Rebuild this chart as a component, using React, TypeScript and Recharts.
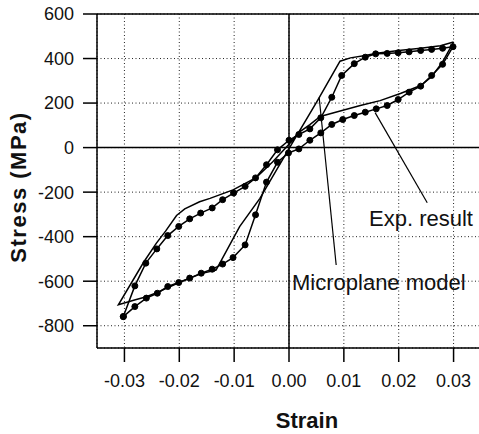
import React from 'react';
import { LineChart, Line, XAxis, YAxis, CartesianGrid, ReferenceLine } from 'recharts';

const expStrain = [
  -0.0302, -0.0281, -0.0261, -0.0241, -0.0221, -0.0201, -0.0181, -0.0161, -0.014, -0.0121,
  -0.0101, -0.008, -0.0061, -0.0041, -0.0021, 0, 0.0018, 0.0038, 0.0058, 0.0078,
  0.0096, 0.0119, 0.0139, 0.0158, 0.0179, 0.0199, 0.0219, 0.024, 0.026, 0.028,
  0.0299, 0.028, 0.026, 0.024, 0.0219, 0.0199, 0.0179, 0.0159, 0.0139, 0.0119,
  0.0098, 0.0078, 0.0058, 0.0038, 0.0018, -0.0001, -0.0021, -0.0041, -0.0061, -0.008,
  -0.0102, -0.0121, -0.014, -0.016, -0.0181, -0.0201, -0.0221, -0.024, -0.026, -0.0281,
  -0.0302,
];
const expStress = [
  -759, -621, -519, -455, -395, -354, -320, -294, -271, -234,
  -204, -174, -136, -77, -10, 33, 59, 84, 134, 226,
  324, 377, 406, 421, 423, 426, 430, 436, 441, 446,
  453, 374, 324, 276, 249, 216, 189, 174, 159, 144,
  126, 104, 66, 33, -6, -24, -66, -155, -302, -437,
  -494, -523, -546, -564, -586, -606, -624, -654, -676, -714,
  -759,
];

// Microplane model loop (plain line)
const modelStrain = [
  0.03, 0.0276, 0.024, 0.02, 0.016, 0.0139, 0.0112, 0.0093, 0.0053, 0,
  -0.0053, -0.009, -0.0133, -0.016, -0.02, -0.024, -0.026, -0.028, -0.0311, -0.0265,
  -0.0242, -0.0225, -0.0205, -0.019, -0.0163, -0.0144, -0.0102, -0.006, -0.003, 0,
  0.0017, 0.0038, 0.0057, 0.008, 0.013, 0.0166, 0.0203, 0.024, 0.026, 0.028,
  0.03,
];
const modelStress = [
  474, 457, 446, 436, 424, 414, 403, 388, 216, -5,
  -228, -355, -550, -566, -606, -650, -670, -683, -706, -515,
  -430, -375, -305, -275, -243, -228, -190, -135, -65, 15,
  66, 103, 140, 155, 189, 211, 243, 279, 318, 385,
  474,
];

const xTicks = [-0.03, -0.02, -0.01, 0, 0.01, 0.02, 0.03];
const yTicks = [-800, -600, -400, -200, 0, 200, 400, 600];

const expData = expStrain.map((x, i) => ({ x, y: expStress[i] }));
const modelData = modelStrain.map((x, i) => ({ x, y: modelStress[i] }));

const font = '"Liberation Sans", Arial, Helvetica, sans-serif';
const tickStyle = { fill: '#111', fontSize: 18, fontFamily: font };

export default function App() {
  return (
    <div style={{ position: 'absolute', left: 0, top: 0, width: 479, height: 434, overflow: 'hidden', background: '#fff' }}>
      <LineChart width={481} height={434} margin={{ top: 14, right: 0, left: 0, bottom: 0 }}>
        <CartesianGrid stroke="#222" strokeDasharray="1 2.5" />
        <XAxis
          dataKey="x"
          type="number"
          domain={[-0.035, 0.035]}
          ticks={xTicks}
          interval={0}
          tickFormatter={(v: number) => v.toFixed(2)}
          height={86}
          tickSize={14}
          tickMargin={12}
          tick={tickStyle}
          axisLine={{ stroke: '#000', strokeWidth: 1.5 }}
          tickLine={{ stroke: '#000', strokeWidth: 1.5 }}
        />
        <YAxis
          type="number"
          domain={[-900, 600]}
          ticks={yTicks}
          interval={0}
          width={97}
          tickSize={14}
          tickMargin={9}
          tick={tickStyle}
          axisLine={{ stroke: '#000', strokeWidth: 1.5 }}
          tickLine={{ stroke: '#000', strokeWidth: 1.5 }}
        />
        <ReferenceLine y={0} stroke="#000" strokeWidth={1.5} />
        <ReferenceLine x={0} stroke="#000" strokeWidth={1.5} />
        <ReferenceLine y={600} stroke="#000" strokeWidth={1.5} />
        <ReferenceLine x={0.035} stroke="#000" strokeWidth={1.5} />
        <ReferenceLine segment={[{ x: 0.0157, y: 157 }, { x: 0.0252, y: -248 }]} stroke="#000" strokeWidth={1.2} />
        <ReferenceLine segment={[{ x: 0.0055, y: 225 }, { x: 0.0086, y: -527 }]} stroke="#000" strokeWidth={1.2} />
        <Line
          data={modelData}
          dataKey="y"
          type="linear"
          stroke="#000"
          strokeWidth={1.5}
          dot={false}
          isAnimationActive={false}
        />
        <Line
          data={expData}
          dataKey="y"
          type="linear"
          stroke="#000"
          strokeWidth={1.5}
          dot={{ r: 3, fill: '#000', stroke: '#000', strokeWidth: 1 }}
          isAnimationActive={false}
        />
      </LineChart>
      <svg width={479} height={434} style={{ position: 'absolute', left: 0, top: 0, pointerEvents: 'none' }}>
        <text x={369} y={226} fontSize={22} fontFamily={font} fill="#111">Exp. result</text>
        <text x={292} y={290} fontSize={22} fontFamily={font} fill="#111">Microplane model</text>
        <text x={307} y={428} fontSize={22} fontWeight="bold" fontFamily={font} fill="#111" textAnchor="middle">Strain</text>
        <text
          x={26}
          y={187}
          fontSize={22}
          fontWeight="bold"
          fontFamily={font}
          fill="#111"
          textAnchor="middle"
          letterSpacing={1.5}
          transform="rotate(-90, 26, 187)"
        >
          Stress (MPa)
        </text>
      </svg>
    </div>
  );
}
